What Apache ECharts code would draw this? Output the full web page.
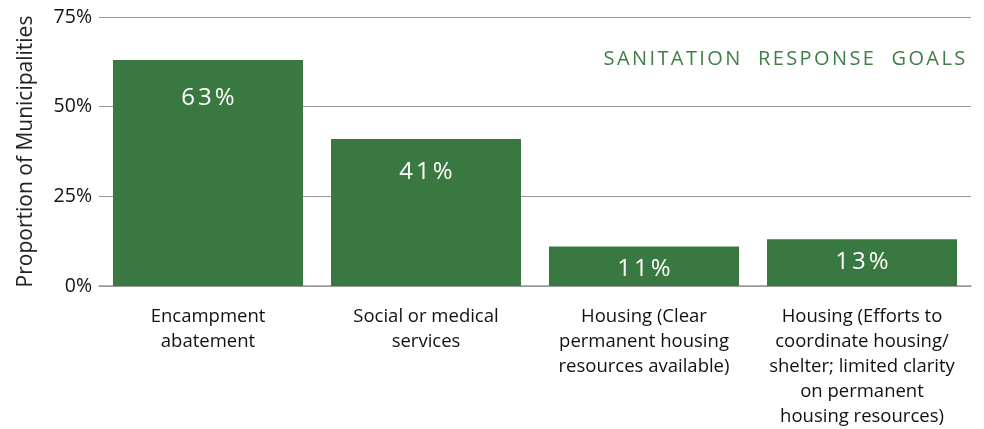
<!DOCTYPE html>
<html><head><meta charset="utf-8">
<script src="https://cdn.jsdelivr.net/npm/echarts@6/dist/echarts.min.js"></script>
<style>html,body{margin:0;padding:0;background:#fff}#c{width:984px;height:429px}</style>
</head><body><div id="c"></div>
<script>
const categories = [
  "Encampment\nabatement",
  "Social or medical\nservices",
  "Housing (Clear\npermanent housing\nresources available)",
  "Housing (Efforts to\ncoordinate housing/\nshelter; limited clarity\non permanent\nhousing resources)"
];
const values = [63, 41, 11, 13];
const yTicks = [0, 25, 50, 75];
const labelDistances = [26, 21, 11, 11];
const titleText = "SANITATION  RESPONSE  GOALS";
const yAxisName = "Proportion of Municipalities";

const FONT = "Open Sans";
const GREEN = "#3a7841";
const spaced = (s, style) => Array.from(s).map(ch => `{${style}|${ch}}`).join("");
const chart = echarts.init(document.getElementById('c'));
chart.setOption({
  animation: false,
  title: {
    text: spaced(titleText, "t"), right: 15, top: 44,
    textStyle: {
      fontWeight: "normal",
      rich: { t: { color: "#3f7f47", fontFamily: FONT, fontWeight: "normal", fontSize: 20, padding: [0, 1.2, 0, 1.2] } }
    }
  },
  grid: { left: 99, right: 13, top: 17, bottom: 142, containLabel: false },
  xAxis: {
    type: "category", data: categories,
    axisLine: { show: true, lineStyle: { color: "#999", width: 1.5 } },
    axisTick: { show: false },
    axisLabel: { color: "#111", fontFamily: FONT, fontSize: 18.5, lineHeight: 25, margin: 18, interval: 0 }
  },
  yAxis: {
    type: "value", min: yTicks[0], max: yTicks[yTicks.length - 1], interval: 25,
    name: yAxisName, nameLocation: "middle", nameGap: 62, nameRotate: 90,
    nameTextStyle: { color: "#222", fontFamily: FONT, fontSize: 21 },
    axisLine: { show: false }, axisTick: { show: false },
    axisLabel: { color: "#111", fontFamily: FONT, fontSize: 19.5, margin: 7, formatter: v => v + "%" },
    splitLine: { lineStyle: { color: "#999", width: 1.2 } }
  },
  series: [{
    type: "bar", barWidth: 190,
    itemStyle: { color: GREEN },
    label: {
      show: true, position: "insideTop",
      formatter: p => spaced(p.value + "%", "v"),
      rich: { v: { color: "#fff", fontFamily: FONT, fontSize: 24, padding: [0, 1.5, 0, 1.5] } }
    },
    data: values.map((v, i) => ({ value: v, label: { distance: labelDistances[i] } }))
  }]
});
</script></body></html>
